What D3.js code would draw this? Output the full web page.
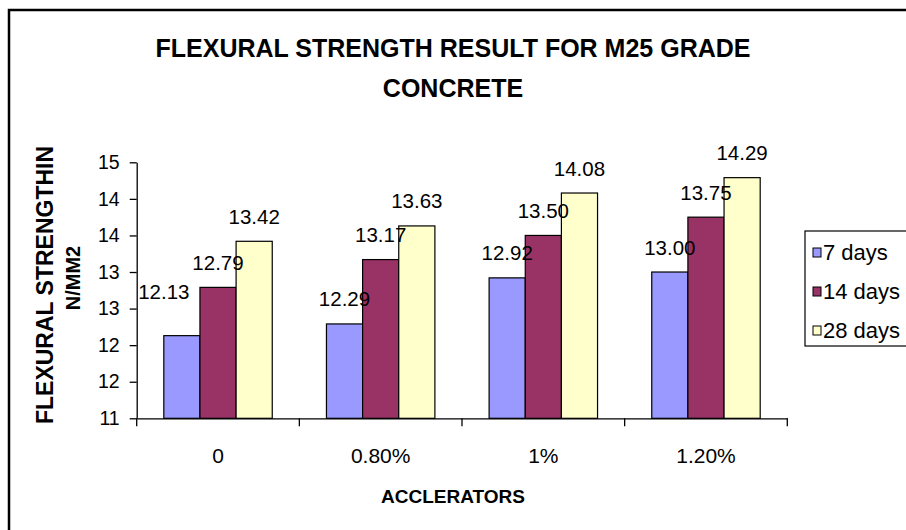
<!DOCTYPE html>
<html lang="en">
  <head>
    <meta charset="UTF-8" />
    <title>flexural strength</title>
    <script src="https://cdn.jsdelivr.net/npm/d3@7/dist/d3.min.js"></script>
    <style>
      body {
        margin: 0;
        background: #fff;
      }
      svg {
        display: block;
        font-family: "Liberation Sans", Arial, sans-serif;
      }
    </style>
  </head>
  <body>
    <div id="wrapper"></div>
    <script>
      const categories = ["0", "0.80%", "1%", "1.20%"];
      const seriesNames = ["7 days", "14 days", "28 days"];
      const days7 = [12.13, 12.29, 12.92, 13.0];
      const days14 = [12.79, 13.17, 13.5, 13.75];
      const days28 = [13.42, 13.63, 14.08, 14.29];
      const yTicks = [11, 11.5, 12, 12.5, 13, 13.5, 14, 14.5];
      const yTickLabels = ["11", "12", "12", "13", "13", "14", "14", "15"];

      const colors = ["#9999ff", "#993366", "#ffffcc"];

      let dimensions = {
        width: 906,
        height: 530,
        margin: { top: 162.3, right: 118.7, bottom: 111.7, left: 136.7 },
      };
      dimensions.boundedWidth =
        dimensions.width - dimensions.margin.left - dimensions.margin.right;
      dimensions.boundedHeight =
        dimensions.height - dimensions.margin.top - dimensions.margin.bottom;

      const seriesValues = [days7, days14, days28];
      const data = categories.map((c, i) => ({
        category: c,
        values: seriesNames.map((s, j) => ({ series: s, value: seriesValues[j][i] })),
      }));

      const svg = d3
        .select("#wrapper")
        .append("svg")
        .attr("width", dimensions.width)
        .attr("height", dimensions.height);

      // chart frame (only left & top edges fall inside the picture)
      svg
        .append("rect")
        .attr("x", 9)
        .attr("y", 10)
        .attr("width", 1000)
        .attr("height", 1000)
        .attr("fill", "none")
        .attr("stroke", "#000")
        .attr("stroke-width", 2.5);

      svg
        .append("text")
        .attr("x", 453)
        .attr("text-anchor", "middle")
        .style("font-weight", "bold")
        .style("font-size", "25px")
        .selectAll("tspan")
        .data(["FLEXURAL STRENGTH RESULT FOR M25 GRADE", "CONCRETE"])
        .join("tspan")
        .attr("x", 453)
        .attr("y", (d, i) => 57 + i * 40)
        .text((d) => d);

      const bounds = svg
        .append("g")
        .attr(
          "transform",
          `translate(${dimensions.margin.left},${dimensions.margin.top})`
        );

      const x0 = d3
        .scaleBand()
        .domain(categories)
        .range([0, dimensions.boundedWidth])
        .padding(0);
      const x1 = d3
        .scaleBand()
        .domain(seriesNames)
        .range([0, x0.bandwidth()])
        .paddingInner(0)
        .paddingOuter(0.75);
      const yScale = d3
        .scaleLinear()
        .domain([11, 14.5])
        .range([dimensions.boundedHeight, 0]);
      const color = d3.scaleOrdinal().domain(seriesNames).range(colors);

      const groups = bounds
        .selectAll(".group")
        .data(data)
        .join("g")
        .attr("class", "group")
        .attr("transform", (d) => `translate(${x0(d.category)},0)`);

      groups
        .selectAll("rect")
        .data((d) => d.values)
        .join("rect")
        .attr("x", (d) => x1(d.series))
        .attr("y", (d) => yScale(d.value))
        .attr("width", x1.bandwidth())
        .attr("height", (d) => dimensions.boundedHeight - yScale(d.value))
        .attr("fill", (d) => color(d.series))
        .attr("stroke", "#000")
        .attr("stroke-width", 1.2);

      // the first label was dragged aside in the original chart
      const labelNudge = { "0|7 days": [-18, -19.5] };
      groups
        .selectAll(".label")
        .data((d) => d.values.map((v) => ({ ...v, category: d.category })))
        .join("text")
        .attr("class", "label")
        .attr("text-anchor", "middle")
        .style("font-size", "20.5px")
        .attr("x", (d) => {
          const n = labelNudge[d.category + "|" + d.series];
          return x1(d.series) + x1.bandwidth() / 2 + (n ? n[0] : 0);
        })
        .attr("y", (d) => {
          const n = labelNudge[d.category + "|" + d.series];
          return yScale(d.value) - 17.5 + (n ? n[1] : 0);
        })
        .text((d) => d3.format(".2f")(d.value));

      const yAxisGenerator = d3
        .axisLeft(yScale)
        .tickValues(yTicks)
        .tickFormat((d, i) => yTickLabels[i])
        .tickSizeInner(7)
        .tickSizeOuter(0)
        .tickPadding(10);
      const yAxis = bounds.append("g").call(yAxisGenerator);
      yAxis.selectAll("text").style("font-size", "19.5px").attr("fill", "#000");
      yAxis.selectAll("line, path").attr("stroke", "#000").attr("stroke-width", 1.3);

      const xAxisGenerator = d3.axisBottom(x0).tickSize(0).tickPadding(30);
      const xAxis = bounds
        .append("g")
        .attr("transform", `translate(0,${dimensions.boundedHeight})`)
        .call(xAxisGenerator);
      xAxis.selectAll("text").style("font-size", "21px").attr("fill", "#000");
      xAxis.select(".domain").attr("stroke", "#000").attr("stroke-width", 1.3);

      // tick marks sit on the category boundaries
      xAxis
        .selectAll(".boundary")
        .data(categories.concat([null]))
        .join("line")
        .attr("class", "boundary")
        .attr("x1", (d) => (d === null ? dimensions.boundedWidth : x0(d)))
        .attr("x2", (d) => (d === null ? dimensions.boundedWidth : x0(d)))
        .attr("y1", 0)
        .attr("y2", 8)
        .attr("stroke", "#000")
        .attr("stroke-width", 1.3);

      svg
        .append("text")
        .attr("x", 453)
        .attr("y", 503)
        .attr("text-anchor", "middle")
        .style("font-weight", "bold")
        .style("font-size", "19px")
        .text("ACCLERATORS");

      const yTitle = svg
        .append("g")
        .attr("transform", "translate(0,285) rotate(-90)")
        .style("font-weight", "bold");
      yTitle
        .append("text")
        .attr("x", 0)
        .attr("y", 53)
        .attr("text-anchor", "middle")
        .style("font-size", "23px")
        .text("FLEXURAL STRENGTHIN");
      yTitle
        .append("text")
        .attr("x", 7)
        .attr("y", 80)
        .attr("text-anchor", "middle")
        .style("font-size", "20px")
        .text("N/MM2");

      const legend = svg.append("g");
      legend
        .append("rect")
        .attr("x", 805)
        .attr("y", 231)
        .attr("width", 200)
        .attr("height", 115)
        .attr("fill", "#fff")
        .attr("stroke", "#000")
        .attr("stroke-width", 1.2);
      const items = legend
        .selectAll(".item")
        .data(seriesNames)
        .join("g")
        .attr("class", "item")
        .attr("transform", (d, i) => `translate(813,${260 + i * 39})`);
      items
        .append("rect")
        .attr("x", 0)
        .attr("y", -12)
        .attr("width", 8)
        .attr("height", 9)
        .attr("fill", (d) => color(d))
        .attr("stroke", "#000")
        .attr("stroke-width", 1);
      items
        .append("text")
        .attr("x", 10)
        .style("font-size", "22px")
        .text((d) => d);
    </script>
  </body>
</html>
